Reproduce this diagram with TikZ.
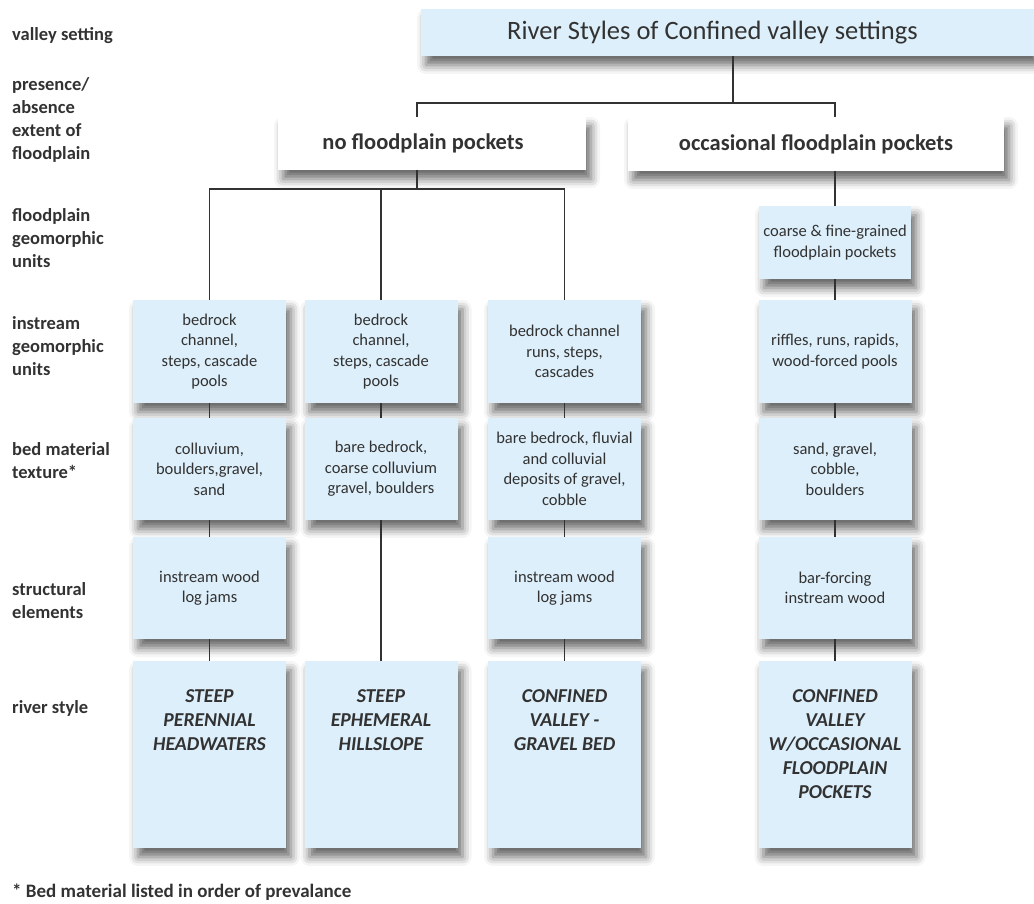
\documentclass[tikz,border=0pt]{standalone}
\usepackage{fontspec}
\setmainfont{Carlito}
\usetikzlibrary{shadows.blur,calc}
\definecolor{boxblue}{RGB}{221,239,250}
\definecolor{ink}{RGB}{50,50,50}
\definecolor{linec}{RGB}{50,50,50}
\begin{document}
\begin{tikzpicture}[x=1pt,y=-1pt,
  shad/.style={blur shadow={shadow xshift=5pt, shadow yshift=-9pt, shadow blur radius=9pt, shadow opacity=60}},
  bluebox/.style={shad, fill=boxblue, inner sep=0pt, minimum width=153pt, align=center, text=ink,
    font=\fontsize{16.5}{20.5}\selectfont},
  whitebox/.style={shad, fill=white, inner sep=0pt, align=center, text=ink,
    font=\bfseries\fontsize{22.5}{26}\selectfont},
  rowlabel/.style={anchor=base west, align=left, inner sep=0pt, text=ink,
    font=\bfseries\fontsize{18.5}{23}\selectfont},
  rstext/.style={anchor=north, inner sep=0pt, align=center, text=ink,
    font=\bfseries\itshape\fontsize{19.7}{24}\selectfont},
  conn/.style={draw=linec, line width=1.6pt}]
\useasboundingbox (0,0) rectangle (1034,903);

% row labels (anchor = baseline of the last line)
\node[rowlabel] (l1) at (12,40) {valley setting};
\node[rowlabel] (l2) at (12,159) {presence/\\absence\\extent of\\floodplain};
\node[rowlabel] (l3) at (12,267) {floodplain\\geomorphic\\units};
\node[rowlabel] (l4) at (12,375) {instream\\geomorphic\\units};
\node[rowlabel] (l5) at (12,478) {bed material\\texture*};
\node[rowlabel] (l6) at (12,618) {structural\\elements};
\node[rowlabel] (l7) at (12,713) {river style};
\node[rowlabel, font=\bfseries\fontsize{19}{23}\selectfont] (fn) at (12,897) {* Bed material listed in order of prevalance};

% top boxes
\node[shad, fill=boxblue, inner sep=0pt, minimum width=613pt, minimum height=47pt, text=ink,
  font=\fontsize{26.5}{30}\selectfont] (title) at (727.5,32.5) {River Styles of Confined valley settings\hspace*{30pt}};
\node[whitebox, minimum width=308pt, minimum height=53pt] (nofp) at (432,143.5) {no floodplain pockets\hspace*{18pt}};
\node[whitebox, minimum width=376pt, minimum height=54pt] (occ) at (816,144) {occasional floodplain pockets};
\node[bluebox, minimum width=152pt, minimum height=73pt] (coarse) at (835,242.5) {coarse \& fine-grained\\floodplain pockets};

% instream row
\node[bluebox, minimum height=103pt] (c1i) at (209.5,351.5) {bedrock\\channel,\\steps, cascade\\pools};
\node[bluebox, minimum height=103pt] (c2i) at (381,351.5) {bedrock\\channel,\\steps, cascade\\pools};
\node[bluebox, minimum height=103pt] (c3i) at (564.5,351.5) {bedrock channel\\runs, steps,\\cascades};
\node[bluebox, minimum height=103pt] (c4i) at (835,351.5) {riffles, runs, rapids,\\wood-forced pools};

% bed material row
\node[bluebox, minimum height=102pt] (c1b) at (209.5,469) {colluvium,\\boulders,gravel,\\sand};
\node[bluebox, minimum height=102pt] (c2b) at (381,469) {bare bedrock,\\coarse colluvium\\gravel, boulders};
\node[bluebox, minimum height=102pt] (c3b) at (564.5,469) {bare bedrock, fluvial\\and colluvial\\deposits of gravel,\\cobble};
\node[bluebox, minimum height=102pt] (c4b) at (835,469) {sand, gravel,\\cobble,\\boulders};

% structural row
\node[bluebox, minimum height=102pt] (c1s) at (209.5,588) {instream wood\\log jams};
\node[bluebox, minimum height=102pt] (c3s) at (564.5,588) {instream wood\\log jams};
\node[bluebox, minimum height=102pt] (c4s) at (835,588) {bar-forcing\\instream wood};

% river style row
\node[bluebox, minimum height=187pt] (c1r) at (209.5,754.5) {};
\node[bluebox, minimum height=187pt] (c2r) at (381,754.5) {};
\node[bluebox, minimum height=187pt] (c3r) at (564.5,754.5) {};
\node[bluebox, minimum height=187pt] (c4r) at (835,754.5) {};
\node[rstext] (c1rt) at ([yshift=-29pt]c1r.north) {STEEP\\PERENNIAL\\HEADWATERS};
\node[rstext] (c2rt) at ([yshift=-29pt]c2r.north) {STEEP\\EPHEMERAL\\HILLSLOPE};
\node[rstext] (c3rt) at ([yshift=-29pt]c3r.north) {CONFINED\\VALLEY -\\GRAVEL BED};
\node[rstext] (c4rt) at ([yshift=-29pt]c4r.north) {CONFINED\\VALLEY\\W/OCCASIONAL\\FLOODPLAIN\\POCKETS};

% connectors
\coordinate (t1) at ([xshift=5.5pt, yshift=-47pt]title.south);
\draw[conn] ([xshift=5.5pt]title.south) -- (t1);
\draw[conn] ([xshift=-15pt]nofp.north) |- (t1);
\draw[conn] (occ.north -| coarse.north) |- (t1);
\coordinate (t2) at ([xshift=-15pt, yshift=-19pt]nofp.south);
\draw[conn] ([xshift=-15pt]nofp.south) -- (t2);
\draw[conn] (c1i.north) |- (t2);
\draw[conn] (c2i.north) |- (t2);
\draw[conn] (c3i.north) |- (t2);
\draw[conn] (occ.south -| coarse.north) -- (coarse.north);
\draw[conn] (coarse) -- (c4i);
\draw[conn] (c1i) -- (c1b);
\draw[conn] (c1b) -- (c1s);
\draw[conn] (c1s) -- (c1r);
\draw[conn] (c2i) -- (c2b);
\draw[conn] (c2b) -- (c2r);
\draw[conn] (c3i) -- (c3b);
\draw[conn] (c3b) -- (c3s);
\draw[conn] (c3s) -- (c3r);
\draw[conn] (c4i) -- (c4b);
\draw[conn] (c4b) -- (c4s);
\draw[conn] (c4s) -- (c4r);
\end{tikzpicture}
\end{document}
